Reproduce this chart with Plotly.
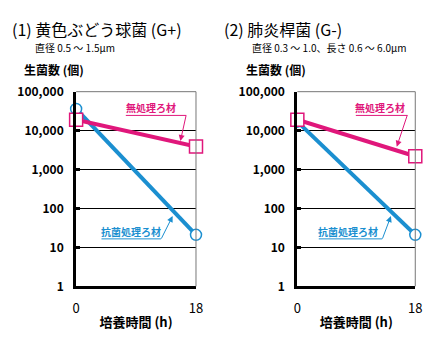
import math
import plotly.graph_objects as go

hours = [0, 18]
# Panel 1: 黄色ぶどう球菌 (G+)
p1_untreated = [19000, 3900]
p1_treated = [36000, 21]
# Panel 2: 肺炎桿菌 (G-)
p2_untreated = [19000, 2200]
p2_treated = [17000, 21]

ytick_vals = [1, 10, 100, 1000, 10000, 100000]
ytick_text = ["1", "10", "100", "1,000", "10,000", "100,000"]
xtick_vals = [0, 18]
xtick_text = ["0", "18"]

titles = ["(1) 黄色ぶどう球菌 (G+)", "(2) 肺炎桿菌 (G-)"]
subtitles = ["直径 0.5 ～ 1.5μm", "直径 0.3 ～ 1.0、長さ 0.6 ～ 6.0μm"]
ylabel = "生菌数 (個)"
xlabel = "培養時間 (h)"
lab_untreated = "無処理ろ材"
lab_treated = "抗菌処理ろ材"

PINK = "#e0177b"
BLUE = "#1b8fd0"
FONT = "Noto Sans CJK JP"
W, H = 433, 338

def px(x):
    return x / W
def py(y):
    return 1 - y / H

fig = go.Figure()
xdoms = [(px(74), px(197)), (px(301), px(422))]
ydom = (py(291), py(86))
data = [(p1_untreated, p1_treated), (p2_untreated, p2_treated)]

for i, (unt, trt) in enumerate(data):
    xa = "x" if i == 0 else "x2"
    ya = "y" if i == 0 else "y2"
    fig.add_trace(go.Scatter(x=hours, y=trt, mode="lines+markers", xaxis=xa, yaxis=ya,
                             line=dict(color=BLUE, width=4),
                             marker=dict(symbol="circle", size=11, color="white",
                                         line=dict(color=BLUE, width=1.5)),
                             showlegend=False, cliponaxis=False))
    fig.add_trace(go.Scatter(x=hours, y=unt, mode="lines+markers", xaxis=xa, yaxis=ya,
                             line=dict(color=PINK, width=4),
                             marker=dict(symbol="square", size=13, color="white",
                                         line=dict(color=PINK, width=1.5)),
                             showlegend=False, cliponaxis=False))

axis_common = dict(showline=True, linecolor="black", linewidth=3, zeroline=False)
for i in range(2):
    sfx = "" if i == 0 else "2"
    fig.layout["xaxis" + sfx] = dict(domain=xdoms[i], range=[0, 18], anchor="y" + sfx,
                                     tickvals=xtick_vals, ticktext=xtick_text, ticks="",
                                     showgrid=False, tickfont=dict(family=FONT, size=13, color="black"),
                                     ticklabelstandoff=8,
                                     title=dict(text="<b>%s</b>" % xlabel, font=dict(family=FONT, size=13, color="black"),
                                                standoff=2), **axis_common)
    fig.layout["yaxis" + sfx] = dict(domain=ydom, type="log", range=[0, 5], anchor="x" + sfx,
                                     tickvals=ytick_vals, ticktext=["<b>%s</b>" % t for t in ytick_text],
                                     ticks="inside", ticklen=4, tickwidth=3, tickcolor="black",
                                     showgrid=True, gridcolor="black", gridwidth=1,
                                     tickfont=dict(family=FONT, size=12, color="black"),
                                     ticklabelstandoff=7, **axis_common)
    # top & right borders (thin gray)
    fig.add_shape(type="line", xref="x" + sfx + " domain", yref="paper",
                  x0=0, x1=1, y0=ydom[1], y1=ydom[1], line=dict(color="#777", width=1))
    fig.add_shape(type="line", xref="x" + sfx + " domain", yref="paper",
                  x0=1, x1=1, y0=ydom[0], y1=ydom[1], line=dict(color="#777", width=1))
    # titles
    fig.add_annotation(xref="paper", yref="paper", x=px(6 + i * 218), y=py(20), xanchor="left", yanchor="middle",
                       text=titles[i], showarrow=False, font=dict(family=FONT, size=16, color="black"))
    fig.add_annotation(xref="paper", yref="paper", x=px(30 + i * 222), y=py(39), xanchor="left", yanchor="middle",
                       text=subtitles[i], showarrow=False, font=dict(family=FONT, size=10, color="black"))
    fig.add_annotation(xref="paper", yref="paper", x=px(18 + i * 228), y=py(63), xanchor="left", yanchor="middle",
                       text="<b>%s</b>" % ylabel, showarrow=False, font=dict(family=FONT, size=12, color="black"))

# series labels: text, underline leader, arrow (pixel layout positions)
labels = [
    # text, color, text center (x,y), underline x0,x1,y, arrow tip (x,y)
    (lab_untreated, PINK, (151, 103), (125, 187, 111), (181, 138)),
    (lab_treated, BLUE, (130, 233), (100, 161, 241), (173, 217)),
    (lab_untreated, PINK, (386, 103), (361, 414, 111), (403, 144)),
    (lab_treated, BLUE, (353, 233), (323, 388, 241), (397, 217)),
]
for text, col, (tx, ty), (ux0, ux1, uy), (ax_, ay_) in labels:
    fig.add_annotation(xref="paper", yref="paper", x=px(tx), y=py(ty), text="<b>%s</b>" % text,
                       showarrow=False, font=dict(family=FONT, size=10, color=col),
                       xanchor="center", yanchor="middle")
    fig.add_shape(type="line", xref="paper", yref="paper", x0=px(ux0), x1=px(ux1), y0=py(uy), y1=py(uy),
                  line=dict(color=col, width=1))
    fig.add_annotation(xref="paper", yref="paper", x=px(ax_), y=py(ay_), ax=ux1 - ax_, ay=uy - ay_,
                       text="", showarrow=True, arrowhead=2, arrowsize=1.2, arrowwidth=1,
                       arrowcolor=col, standoff=0, startstandoff=0)

fig.update_layout(width=W, height=H, margin=dict(l=0, r=0, t=0, b=0),
                  paper_bgcolor="white", plot_bgcolor="white", font=dict(family=FONT))
fig.write_html("out.html", post_script="document.body.style.margin='0';")
